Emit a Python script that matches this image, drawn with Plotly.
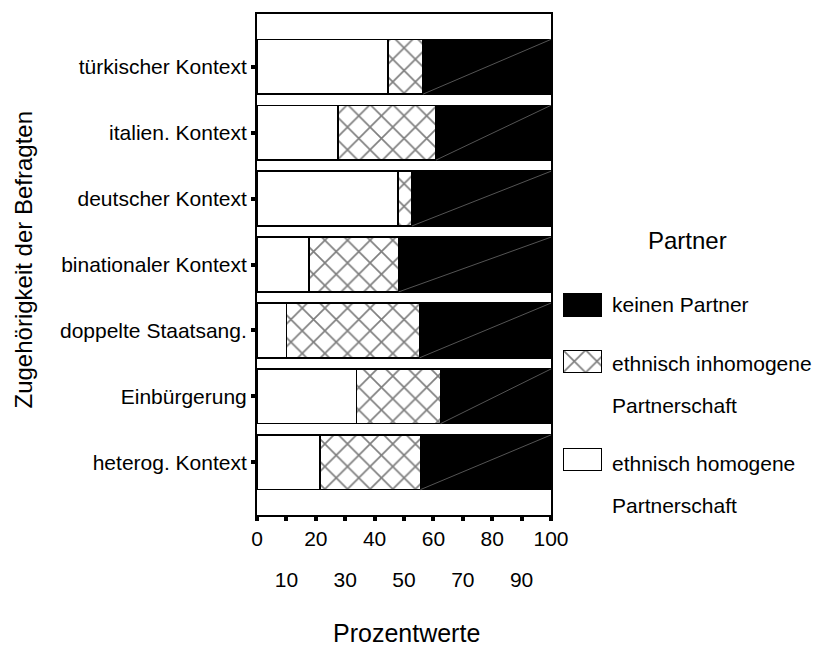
import plotly.graph_objects as go

# ---------------- data ----------------
categories = ["türkischer Kontext", "italien. Kontext", "deutscher Kontext",
              "binationaler Kontext", "doppelte Staatsang.", "Einbürgerung",
              "heterog. Kontext"]
homogen = [44.5, 27.5, 47.9, 17.7, 10.0, 33.8, 21.5]
inhomogen = [12.0, 33.4, 4.8, 30.5, 45.3, 28.6, 34.1]
kein_partner = [43.5, 39.1, 47.3, 51.8, 44.7, 37.6, 44.4]

name_homogen = "ethnisch homogene Partnerschaft"
name_inhomogen = "ethnisch inhomogene Partnerschaft"
name_kein = "keinen Partner"

x_major_ticks = [0, 20, 40, 60, 80, 100]
x_minor_ticks = [10, 30, 50, 70, 90]
all_ticks = [0, 10, 20, 30, 40, 50, 60, 70, 80, 90, 100]

# ---------------- layout geometry ----------------
W, H = 817, 648
ML, MR, MT, MB = 257, 10, 14, 133
PW, PH = W - ML - MR, H - MT - MB


def px_x(px):
    return (px - ML) / PW


def px_y(py):
    return (H - MB - py) / PH


FONT = "Liberation Sans, Arial, sans-serif"
FS = 21
BAR_W = 0.83

hatch = dict(shape="x", size=16, solidity=0.2, fgcolor="black", bgcolor="white")
line = dict(color="black", width=1.5)

fig = go.Figure()
fig.add_trace(go.Bar(y=categories, x=homogen, orientation="h", name=name_homogen,
                     marker=dict(color="white", line=line), width=BAR_W, showlegend=False))
fig.add_trace(go.Bar(y=categories, x=inhomogen, orientation="h", name=name_inhomogen,
                     marker=dict(color="white", line=line, pattern=hatch), width=BAR_W,
                     showlegend=False))
fig.add_trace(go.Bar(y=categories, x=kein_partner, orientation="h", name=name_kein,
                     marker=dict(color="black", line=line), width=BAR_W, showlegend=False))

# faint diagonal inside the black segments (artifact of the original rendering)
for i, (h, ih, k) in enumerate(zip(homogen, inhomogen, kein_partner)):
    start = h + ih
    fig.add_shape(type="line", xref="x", yref="y",
                  x0=start, x1=start + k, y0=i + BAR_W / 2, y1=i - BAR_W / 2,
                  line=dict(color="#6a6a6a", width=0.8), layer="above")

# dummy trace for second tick row axis
fig.add_trace(go.Scatter(x=[None], y=[None], xaxis="x3", yaxis="y", showlegend=False,
                         hoverinfo="skip"))

# ---------------- custom legend swatches (tiny axes) ----------------
legend_items = [
    (name_kein, dict(color="black", line=line), 293, 317),
    (name_inhomogen, dict(color="white", line=line, pattern=hatch), 350, 373),
    (name_homogen, dict(color="white", line=line), 448, 471),
]
sw_x0, sw_x1 = 563, 602
for i, (nm, mk, top, bot) in enumerate(legend_items):
    n = i + 4
    fig.add_trace(go.Bar(x=[1], y=[nm], orientation="h", marker=mk, width=1,
                         xaxis=f"x{n}", yaxis=f"y{n}", showlegend=False, hoverinfo="skip"))
    fig.layout[f"xaxis{n}"] = dict(domain=[px_x(sw_x0), px_x(sw_x1)], range=[0, 1],
                                   visible=False, anchor=f"y{n}", fixedrange=True)
    fig.layout[f"yaxis{n}"] = dict(domain=[px_y(bot), px_y(top)], range=[-0.5, 0.5],
                                   visible=False, anchor=f"x{n}", fixedrange=True)

main_right = px_x(551)

fig.update_layout(
    width=W, height=H, autosize=False,
    margin=dict(l=ML, r=MR, t=MT, b=MB, pad=0, autoexpand=False),
    paper_bgcolor="white", plot_bgcolor="white",
    barmode="stack", bargap=0.17,
    font=dict(family=FONT, size=FS, color="black"),
    xaxis=dict(domain=[0, main_right], range=[0, 100], showgrid=False, zeroline=False,
               showline=True, linecolor="black", linewidth=2, mirror=True,
               tickmode="array", tickvals=all_ticks,
               ticktext=[str(t) if t in x_major_ticks else "" for t in all_ticks],
               ticks="outside", ticklen=4, tickwidth=4, tickcolor="black",
               tickfont=dict(size=FS)),
    xaxis3=dict(domain=[0, main_right], range=[0, 100], overlaying="x", side="bottom",
                anchor="y", showgrid=False, zeroline=False, showline=False,
                tickmode="array", tickvals=x_minor_ticks,
                ticktext=[str(t) for t in x_minor_ticks], ticks="",
                ticklabelstandoff=50, tickfont=dict(size=FS)),
    yaxis=dict(range=[6.8, -0.8], showgrid=False, zeroline=False,
               showline=True, linecolor="black", linewidth=2, mirror=True,
               ticks="outside", ticklen=4, tickwidth=4, tickcolor="black",
               tickfont=dict(size=FS), type="category"),
    showlegend=False,
)

anns = [
    dict(text="Zugehörigkeit der Befragten", x=px_x(22.5), y=px_y(260), textangle=-90,
         font=dict(size=24)),
    dict(text="Prozentwerte", x=px_x(406), y=px_y(633), font=dict(size=25)),
    dict(text="Partner", x=px_x(687), y=px_y(240), font=dict(size=24)),
    dict(text="keinen Partner", x=px_x(610), y=px_y(304), xanchor="left"),
    dict(text="ethnisch inhomogene", x=px_x(610), y=px_y(363), xanchor="left"),
    dict(text="Partnerschaft", x=px_x(610), y=px_y(405), xanchor="left"),
    dict(text="ethnisch homogene", x=px_x(610), y=px_y(463), xanchor="left"),
    dict(text="Partnerschaft", x=px_x(610), y=px_y(505), xanchor="left"),
]
for a in anns:
    a.setdefault("xanchor", "center")
    a.setdefault("yanchor", "middle")
    fig.add_annotation(xref="paper", yref="paper", showarrow=False, **a)

post = ("document.body.style.margin='0';document.body.style.padding='0';"
        "document.body.style.overflow='hidden';"
        "var gd=document.getElementById('{plot_id}');"
        "Plotly.relayout(gd,{width:817,height:648});")

fig.write_html("out.html", config={"responsive": False, "displayModeBar": False},
               default_width="817px", default_height="648px", post_script=post)
